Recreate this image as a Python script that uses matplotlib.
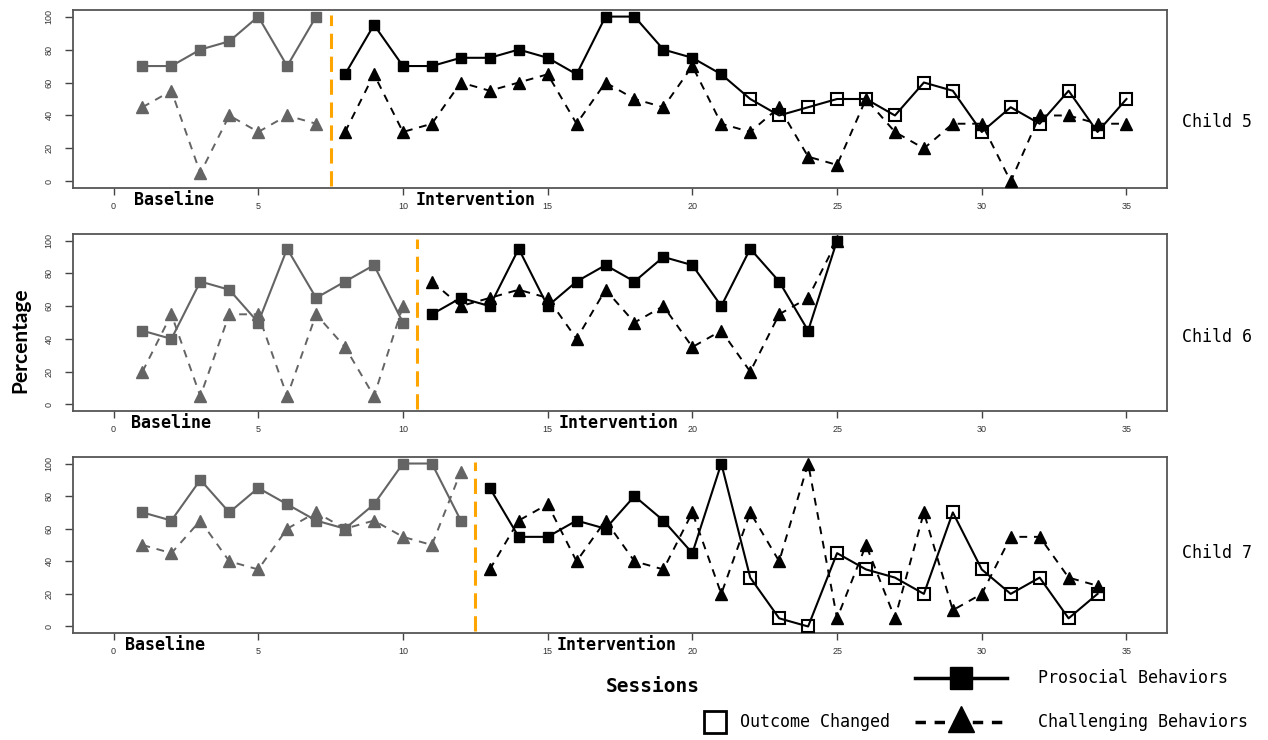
import matplotlib
matplotlib.use("Agg")
import matplotlib.pyplot as plt

# sessions per child
child5_prosocial = [70, 70, 80, 85, 100, 70, 100,
                    65, 95, 70, 70, 75, 75, 80, 75, 65, 100, 100, 80, 75, 65,
                    50, 40, 45, 50, 50, 40, 60, 55, 30, 45, 35, 55, 30, 50]
child5_challenging = [45, 55, 5, 40, 30, 40, 35,
                      30, 65, 30, 35, 60, 55, 60, 65, 35, 60, 50, 45, 70, 35,
                      30, 45, 15, 10, 50, 30, 20, 35, 35, 0, 40, 40, 35, 35]
child6_prosocial = [45, 40, 75, 70, 50, 95, 65, 75, 85, 50,
                    55, 65, 60, 95, 60, 75, 85, 75, 90, 85, 60, 95, 75, 45, 100]
child6_challenging = [20, 55, 5, 55, 55, 5, 55, 35, 5, 60,
                      75, 60, 65, 70, 65, 40, 70, 50, 60, 35, 45, 20, 55, 65, 100]
child7_prosocial = [70, 65, 90, 70, 85, 75, 65, 60, 75, 100, 100, 65,
                    85, 55, 55, 65, 60, 80, 65, 45, 100,
                    30, 5, 0, 45, 35, 30, 20, 70, 35, 20, 30, 5, 20]
child7_challenging = [50, 45, 65, 40, 35, 60, 70, 60, 65, 55, 50, 95,
                      35, 65, 75, 40, 65, 40, 35, 70, 20, 70, 40, 100, 5, 50,
                      5, 70, 10, 20, 55, 55, 30, 25]

child_names = ["Child 5", "Child 6", "Child 7"]
baseline_len = [7, 10, 12]        # last baseline session
changed_from = [22, None, 22]     # first session with "outcome changed"
prosocial = [child5_prosocial, child6_prosocial, child7_prosocial]
challenging = [child5_challenging, child6_challenging, child7_challenging]

x_ticks = [0, 5, 10, 15, 20, 25, 30, 35]
y_ticks = [0, 20, 40, 60, 80, 100]

GRAY = "#646464"
MONO = "DejaVu Sans Mono"
W, H = 1268, 740

fig = plt.figure(figsize=(12.68, 7.40), dpi=100)

# legend / labels layer in pixel coordinates
lax = fig.add_axes([0, 0, 1, 1])
lax.set_xlim(0, W)
lax.set_ylim(H, 0)
lax.axis("off")

panels = [(10, 188), (234, 411), (457, 633)]
label_x = [(2.1, 12.5), (1.97, 17.45), (1.78, 17.4)]
child_y = [36, 41, 45]

for i in range(3):
    top, bot = panels[i]
    ax = fig.add_axes([73 / W, 1 - bot / H, (1167 - 73) / W, (bot - top) / H])
    pro = prosocial[i]
    cha = challenging[i]
    nb = baseline_len[i]
    sess = list(range(1, len(pro) + 1))

    # baseline phase (gray)
    ax.plot(sess[:nb], pro[:nb], color=GRAY, lw=1.5, marker="s", ms=7.5,
            mfc=GRAY, mec=GRAY, zorder=3)
    ax.plot(sess[:nb], cha[:nb], color=GRAY, lw=1.4, dashes=(4, 3.5),
            marker="^", ms=8.5, mfc=GRAY, mec=GRAY, zorder=4)

    # intervention phase (black)
    ax.plot(sess[nb:], pro[nb:], color="black", lw=1.5, zorder=3)
    cf = changed_from[i]
    filled_idx = [k for k in range(nb, len(pro)) if cf is None or sess[k] < cf]
    open_idx = [k for k in range(nb, len(pro)) if cf is not None and sess[k] >= cf]
    ax.plot([sess[k] for k in filled_idx], [pro[k] for k in filled_idx],
            ls="none", marker="s", ms=7.5, mfc="black", mec="black", zorder=3)
    if open_idx:
        ax.plot([sess[k] for k in open_idx], [pro[k] for k in open_idx],
                ls="none", marker="s", ms=8, mfc="none", mec="black",
                mew=1.5, zorder=3)
    ax.plot(sess[nb:], cha[nb:], color="black", lw=1.4, dashes=(4, 3.5),
            marker="^", ms=8.5, mfc="black", mec="black", zorder=4)

    # phase change line
    ax.axvline(nb + 0.5, ymin=0.01, ymax=0.97, color="#FFA500", lw=2.2,
               dashes=(5, 2.5), zorder=5)

    ax.set_xlim(-1.4, 36.4)
    ax.set_ylim(-4, 104)
    ax.set_xticks(x_ticks)
    ax.set_yticks(y_ticks)
    ax.tick_params(axis="x", length=5, width=1, color="#444444", pad=5,
                   labelsize=6.5, labelcolor="#333333")
    ax.tick_params(axis="y", length=6, width=1, color="#444444", pad=8,
                   labelsize=6.5, labelcolor="#333333")
    for lab in ax.get_xticklabels() + ax.get_yticklabels():
        lab.set_family("Liberation Sans")
    for lab in ax.get_yticklabels():
        lab.set_rotation(90)
        lab.set_va("center")
    for sp in ax.spines.values():
        sp.set_color("#555555")
        sp.set_linewidth(1.3)

    bx, ix = label_x[i]
    ax.text(bx, -6, "Baseline", ha="center", va="top", family=MONO,
            fontsize=12, fontweight="bold", clip_on=False)
    ax.text(ix, -6, "Intervention", ha="center", va="top", family=MONO,
            fontsize=12, fontweight="bold", clip_on=False)
    ax.text(1.0137, child_y[i], child_names[i], transform=ax.get_yaxis_transform(),
            ha="left", va="center", family=MONO, fontsize=12)

# axis titles
lax.text(20, 340, "Percentage", rotation=90, ha="center", va="center",
         family="Lato", fontweight="bold", fontsize=15)
lax.text(653, 686, "Sessions", ha="center", va="center", family=MONO,
         fontsize=14, fontweight="bold")

# legend
lax.plot([915, 1007], [678, 678], color="black", lw=2.5)
lax.plot([961], [678], marker="s", ms=16, color="black")
lax.text(1038, 678, "Prosocial Behaviors", ha="left", va="center",
         family=MONO, fontsize=12)
lax.plot([915, 1007], [722, 722], color="black", lw=2.5, dashes=(3, 2.5))
lax.plot([961], [719], marker="^", ms=19, color="black")
lax.text(1038, 722, "Challenging Behaviors", ha="left", va="center",
         family=MONO, fontsize=12)
lax.plot([715], [722], marker="s", ms=16, mfc="white", mec="black", mew=2)
lax.text(740, 722, "Outcome Changed", ha="left", va="center",
         family=MONO, fontsize=12)

fig.savefig("out.png", dpi=100)
